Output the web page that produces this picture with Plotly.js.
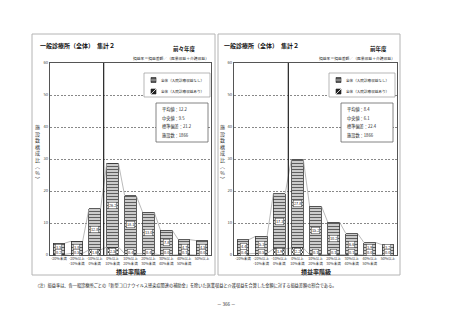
<!DOCTYPE html>
<html>
<head>
<meta charset="utf-8">
<script src="https://cdn.plot.ly/plotly-3.0.1.min.js"></script>
<style>html,body{margin:0;padding:0;background:#fff;}#chart{width:453px;height:320px;}</style>
</head>
<body>
<div id="chart"></div>
<script>
const categories = ["-20%未満","-20%以上<br>-10%未満","-10%以上<br>0%未満","0%以上<br>10%未満","10%以上<br>20%未満","20%以上<br>30%未満","30%以上<br>40%未満","40%以上<br>50%未満","50%以上"];
const prevPrevNoInpatient = [3.5,3.8,12.8,26.2,18.1,13.0,7.8,4.7,4.5];
const prevPrevInpatient   = [0.2,0.5,1.6,2.5,0.4,0.4,0.0,0.1,0.0];
const prevNoInpatient     = [4.4,5.3,17.3,27.8,15.2,10.2,6.6,3.9,3.2];
const prevInpatient       = [0.4,0.5,1.9,2.2,0.1,0.1,0.1,0.0,0.0];
const statLabels = ["平均値","中央値","標準偏差","施設数"];
const statsPrevPrev = ["12.2","9.5","21.2","1866"];
const statsPrev = ["8.4","6.1","22.4","1866"];
const seriesNames = ["全体（入院診療収益なし）","全体（入院診療収益あり）"];
const panelYears = ["前々年度","前年度"];

const W = 453, H = 320;
const FONT = '"Noto Sans CJK JP", "Noto Sans", sans-serif';
const px = x => x / W;
const py = y => 1 - y / H;
const xIdx = categories.map((c, i) => i);
const BW = 0.65;

const traces = [];
const annotations = [];
const shapes = [];

function panel(k, mainVals, lowVals, stats, geo) {
  const xa = k === 0 ? 'x' : 'x2';
  const ya = k === 0 ? 'y' : 'y2';
  traces.push({
    type: 'bar', x: xIdx, y: lowVals, xaxis: xa, yaxis: ya, width: BW,
    name: seriesNames[1], hoverinfo: 'skip',
    marker: {color: '#fff', pattern: {shape: 'x', fgcolor: '#111', bgcolor: '#fff', size: 2.5, solidity: 0.5},
             line: {color: '#333', width: 0.6}}
  });
  traces.push({
    type: 'bar', x: xIdx, y: mainVals, xaxis: xa, yaxis: ya, width: BW,
    name: seriesNames[0], hoverinfo: 'skip',
    marker: {color: '#fff', pattern: {shape: '-', fgcolor: '#5e5e5e', bgcolor: '#fff', size: 3, solidity: 0.55},
             line: {color: '#333', width: 0.8}}
  });
  // series lines
  const tops = mainVals.map((v, i) => v + lowVals[i]);
  [tops, lowVals].forEach(arr => {
    const lx = [], ly = [];
    for (let i = 0; i < arr.length - 1; i++) {
      lx.push(xIdx[i] + BW / 2, xIdx[i + 1] - BW / 2, null);
      ly.push(arr[i], arr[i + 1], null);
    }
    traces.push({type: 'scatter', mode: 'lines', x: lx, y: ly, xaxis: xa, yaxis: ya,
      line: {color: '#a8a8a8', width: 0.8}, hoverinfo: 'skip', showlegend: false});
  });
  // value labels
  mainVals.forEach((v, i) => {
    annotations.push({xref: xa, yref: ya, x: xIdx[i], y: Math.max(lowVals[i] + v / 2, 2.5), text: v.toFixed(1),
      showarrow: false, font: {family: FONT, size: 3.8, color: '#111'},
      bgcolor: '#fff', bordercolor: '#444', borderwidth: 0.5, borderpad: 0.5});
    annotations.push({xref: xa, yref: ya, x: xIdx[i], y: Math.max(lowVals[i] / 2, 0.75), text: lowVals[i].toFixed(1),
      showarrow: false, font: {family: FONT, size: 3.8, color: '#111'},
      bgcolor: '#fff', bordercolor: '#444', borderwidth: 0.5, borderpad: 0.5});
  });
  // vertical 0% line
  shapes.push({type: 'line', xref: xa, yref: ya + ' domain', x0: 2.5, x1: 2.5, y0: 0, y1: 1,
    line: {color: '#222', width: 1.2}});
  // panel border
  shapes.push({type: 'rect', xref: 'paper', yref: 'paper', x0: px(geo.p0), x1: px(geo.p1), y0: py(275), y1: py(34),
    line: {color: '#b4b4b4', width: 1}});
  // titles
  annotations.push({xref: 'paper', yref: 'paper', x: px(geo.p0 + (k === 0 ? 6 : 4)), y: py(45), xanchor: 'left', yanchor: 'middle',
    text: '<b>一般診療所（全体）　集計２</b>', showarrow: false, font: {family: FONT, size: 6, color: '#111'}});
  annotations.push({xref: 'paper', yref: 'paper', x: px(geo.yearX), y: py(49.5), xanchor: 'right', yanchor: 'middle',
    text: '<b>' + panelYears[k] + '</b>', showarrow: false, font: {family: FONT, size: 5.5, color: '#111'}});
  annotations.push({xref: 'paper', yref: 'paper', x: px(geo.x1), y: py(58), xanchor: 'right', yanchor: 'middle',
    text: '損益率＝損益差額／（医業収益＋介護収益）', showarrow: false, font: {family: FONT, size: 3.8, color: '#222'}});
  // legend
  shapes.push({type: 'rect', xref: 'paper', yref: 'paper', x0: px(geo.lg0), x1: px(geo.lg0 + 66), y0: py(97), y1: py(73),
    line: {color: '#999', width: 0.7}, fillcolor: '#fff'});
  shapes.push({type: 'rect', xref: 'paper', yref: 'paper', x0: px(geo.lg0 + 7), x1: px(geo.lg0 + 12), y0: py(82.5), y1: py(77.5),
    line: {color: '#222', width: 0.6}, fillcolor: '#555'});
  shapes.push({type: 'line', xref: 'paper', yref: 'paper', x0: px(geo.lg0 + 7), x1: px(geo.lg0 + 12), y0: py(80), y1: py(80),
    line: {color: '#fff', width: 0.6}});
  shapes.push({type: 'rect', xref: 'paper', yref: 'paper', x0: px(geo.lg0 + 7), x1: px(geo.lg0 + 12), y0: py(94), y1: py(89),
    line: {color: '#222', width: 0.6}, fillcolor: '#222'});
  shapes.push({type: 'line', xref: 'paper', yref: 'paper', x0: px(geo.lg0 + 7), x1: px(geo.lg0 + 12), y0: py(94), y1: py(89),
    line: {color: '#fff', width: 0.8}});
  seriesNames.forEach((s, j) => {
    annotations.push({xref: 'paper', yref: 'paper', x: px(geo.lg0 + 14.5), y: py(j === 0 ? 80 : 91.5), xanchor: 'left', yanchor: 'middle',
      text: s, showarrow: false, font: {family: FONT, size: 3.6, color: '#222'}});
  });
  // stats box
  shapes.push({type: 'rect', xref: 'paper', yref: 'paper', x0: px(geo.st0), x1: px(geo.st1), y0: py(142), y1: py(103),
    line: {color: '#666', width: 0.8}, fillcolor: '#fff'});
  statLabels.forEach((lab, j) => {
    annotations.push({xref: 'paper', yref: 'paper', x: px(geo.st0 + 4), y: py(109.5 + j * 8.7), xanchor: 'left', yanchor: 'middle',
      text: lab + '：' + stats[j], showarrow: false, font: {family: FONT, size: 4.2, color: '#222'}});
  });
  // y-axis title (vertical)
  annotations.push({xref: 'paper', yref: 'paper', x: px(geo.yt), y: py(152), xanchor: 'center', yanchor: 'middle',
    text: ['施','設','数','構','成','比','︵','%','︶'].join('<br>'), showarrow: false,
    font: {family: FONT, size: 5, color: '#333'}});
  // x-axis title
  annotations.push({xref: 'paper', yref: 'paper', x: px((geo.x0 + geo.x1) / 2), y: py(271.5), xanchor: 'center', yanchor: 'middle',
    text: '<b>損益率階級</b>', showarrow: false, font: {family: FONT, size: 6, color: '#222'}});
}

const geoL = {p0: 32, p1: 215, x0: 50, x1: 211, yearX: 198, lg0: 144, st0: 156, st1: 208, yt: 37.5};
const geoR = {p0: 218, p1: 400, x0: 234, x1: 397, yearX: 389, lg0: 329, st0: 341, st1: 393, yt: 222.5};
panel(0, prevPrevNoInpatient, prevPrevInpatient, statsPrevPrev, geoL);
panel(1, prevNoInpatient, prevInpatient, statsPrev, geoR);

annotations.push({xref: 'paper', yref: 'paper', x: px(33), y: py(285), xanchor: 'left', yanchor: 'middle',
  text: '（注）損益率は、各一般診療所ごとの「新型コロナウイルス感染症関連の補助金」を除いた医業収益と介護収益を合算した金額に対する損益差額の割合である。',
  showarrow: false, font: {family: FONT, size: 4.2, color: '#222'}});
annotations.push({xref: 'paper', yref: 'paper', x: px(226), y: py(304), xanchor: 'center', yanchor: 'middle',
  text: '－ 366 －', showarrow: false, font: {family: FONT, size: 4.5, color: '#222'}});

function xaxisDef(geo) {
  return {domain: [px(geo.x0), px(geo.x1)], range: [-0.5, 8.5], tickmode: 'array', tickvals: xIdx, ticktext: categories,
    tickangle: 0, tickfont: {family: FONT, size: 3.6, color: '#333'}, showline: true, mirror: true, linecolor: '#555',
    linewidth: 1, showgrid: false, zeroline: false, ticks: '', fixedrange: true};
}
function yaxisDef(anchor) {
  return {domain: [py(255), py(63)], range: [0, 60], dtick: 10, tick0: 0, anchor: anchor,
    tickfont: {family: FONT, size: 4.2, color: '#444'}, showticklabels: true, showline: true, mirror: true, linecolor: '#555', linewidth: 1,
    showgrid: true, gridcolor: '#555', gridwidth: 0.7, griddash: '2px,1.5px', zeroline: false, ticks: '', fixedrange: true};
}

const layout = {
  width: W, height: H, margin: {l: 0, r: 0, t: 0, b: 0},
  paper_bgcolor: '#fff', plot_bgcolor: '#fff', showlegend: false,
  barmode: 'stack', font: {family: FONT},
  xaxis: Object.assign(xaxisDef(geoL), {anchor: 'y'}),
  yaxis: yaxisDef('x'),
  xaxis2: Object.assign(xaxisDef(geoR), {anchor: 'y2'}),
  yaxis2: yaxisDef('x2'),
  annotations: annotations, shapes: shapes
};

Plotly.newPlot('chart', traces, layout, {displayModeBar: false, staticPlot: true});
</script>
</body>
</html>
